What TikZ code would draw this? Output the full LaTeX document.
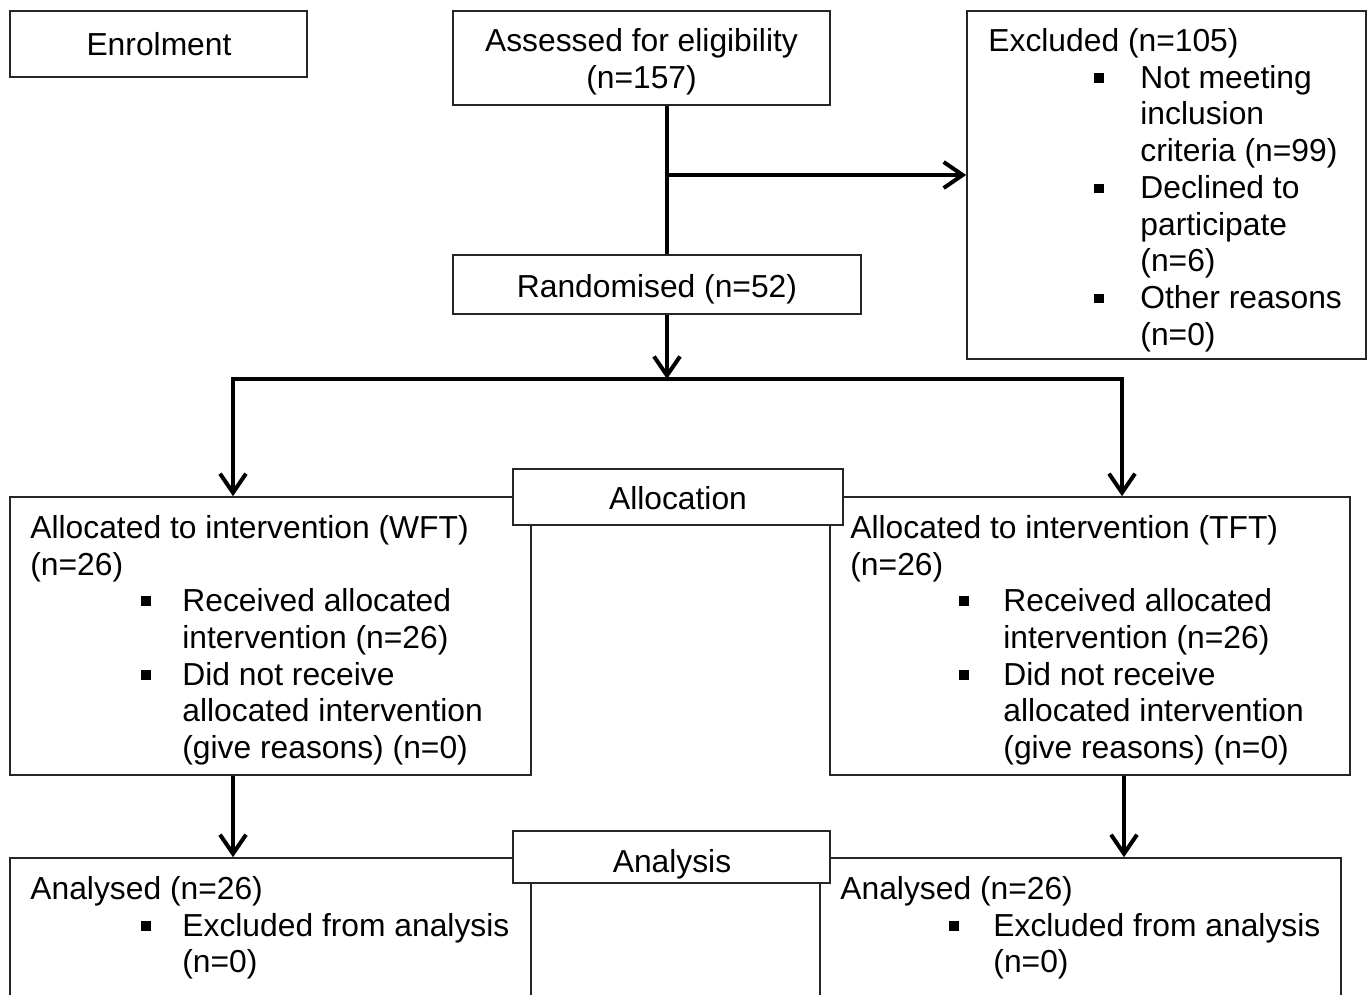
\documentclass[tikz,border=0pt]{standalone}
\usepackage{fontspec}
\setmainfont{Liberation Sans}
\usetikzlibrary{arrows.meta,fit}
% small square list bullet
\newcommand{\sqbullet}{\rule[2.6pt]{4.8pt}{4.8pt}}
\begin{document}
\begin{tikzpicture}[x=0.5pt,y=-0.5pt,
  box/.style={draw=black!85, line width=0.8pt, fill=white, inner sep=0pt},
  txt/.style={inner sep=0pt, anchor=base west, font=\fontsize{15.9}{18.35}\selectfont},
  ctxt/.style={txt, anchor=base},
  flow/.style={line width=2pt, line join=miter},
  arr/.style={flow, -{Straight Barb[length=9.5pt,width=13pt,line width=2pt]}}]
\useasboundingbox (0,0) rectangle (1371,995);

% ---------- boxes ----------
\node[box, fit={(10,11) (307,77)}] (enrol) {};
\node[box, fit={(453,11) (830,105)}] (assess) {};
\node[box, fit={(967,11) (1366,359)}] (excl) {};
\node[box, fit={(453,255) (861,314)}] (rand) {};
\node[box, fit={(10,497) (531,775)}] (wft) {};
\node[box, fit={(830,497) (1350,775)}] (tft) {};
\node[box, fit={(513,469) (843,525)}] (alloc) {};
\node[box, fit={(10,858) (531,1010)}] (wfta) {};
\node[box, fit={(820,858) (1341,1010)}] (tfta) {};
\node[box, fit={(513,831) (830,883)}] (anal) {};

% ---------- connectors ----------
\coordinate (trunk) at (667,175);
\coordinate (split) at (667,379);
\coordinate (wl) at (233,379);
\coordinate (wr) at (1122,379);
\coordinate (bl) at (233,800);
\coordinate (br) at (1124,800);
\draw[flow] (assess.south -| trunk) -- (rand.north -| trunk);
\draw[arr] (trunk) -- (excl.west |- trunk);
\draw[arr] (rand.south -| split) -- (split);
\draw[arr] (split) -- (wl) -- (wft.north -| wl);
\draw[arr] (split) -- (wr) -- (tft.north -| wr);
\draw[arr] (wft.south -| bl) -- (wfta.north -| bl);
\draw[arr] (tft.south -| br) -- (tfta.north -| br);

% ---------- texts ----------
\node[ctxt] (tEnrol) at (159,56) {Enrolment};
\node[ctxt] (tAss1) at (641.5,52) {Assessed for eligibility};
\node[ctxt] (tAss2) at (641.5,89) {(n=157)};
\node[ctxt] (tRand) at (657,297) {Randomised (n=52)};
\node[ctxt] (tAlloc) at (678,509) {Allocation};
\node[ctxt] (tAnal) at (672,872) {Analysis};

% excluded list
\node[txt] (ex0) at (988,51.5) {Excluded (n=105)};
\node[txt] (exb1) at (1094,88.2) {\sqbullet};
\node[txt] (ex1) at (1140,88.2) {Not meeting};
\node[txt] (ex2) at (1140,124.9) {inclusion};
\node[txt] (ex3) at (1140,161.6) {criteria (n=99)};
\node[txt] (exb2) at (1094,198.3) {\sqbullet};
\node[txt] (ex4) at (1140,198.3) {Declined to};
\node[txt] (ex5) at (1140,235) {participate};
\node[txt] (ex6) at (1140,271.7) {(n=6)};
\node[txt] (exb3) at (1094,308.4) {\sqbullet};
\node[txt] (ex7) at (1140,308.4) {Other reasons};
\node[txt] (ex8) at (1140,345.1) {(n=0)};

% allocation, left arm
\node[txt] (wa0) at (30,538) {Allocated to intervention (WFT)};
\node[txt] (wa1) at (30,575) {(n=26)};
\node[txt] (wab1) at (141,611) {\sqbullet};
\node[txt] (wa2) at (182,611) {Received allocated};
\node[txt] (wa3) at (182,648) {intervention (n=26)};
\node[txt] (wab2) at (141,685) {\sqbullet};
\node[txt] (wa4) at (182,685) {Did not receive};
\node[txt] (wa5) at (182,721) {allocated intervention};
\node[txt] (wa6) at (182,758) {(give reasons) (n=0)};

% allocation, right arm
\node[txt] (ta0) at (850,538) {Allocated to intervention (TFT)};
\node[txt] (ta1) at (850,575) {(n=26)};
\node[txt] (tab1) at (959,611) {\sqbullet};
\node[txt] (ta2) at (1003,611) {Received allocated};
\node[txt] (ta3) at (1003,648) {intervention (n=26)};
\node[txt] (tab2) at (959,685) {\sqbullet};
\node[txt] (ta4) at (1003,685) {Did not receive};
\node[txt] (ta5) at (1003,721) {allocated intervention};
\node[txt] (ta6) at (1003,758) {(give reasons) (n=0)};

% analysis, left arm
\node[txt] (wn0) at (30,899) {Analysed (n=26)};
\node[txt] (wnb1) at (141,936) {\sqbullet};
\node[txt] (wn1) at (182,936) {Excluded from analysis};
\node[txt] (wn2) at (182,972) {(n=0)};

% analysis, right arm
\node[txt] (tn0) at (840,899) {Analysed (n=26)};
\node[txt] (tnb1) at (949,936) {\sqbullet};
\node[txt] (tn1) at (993,936) {Excluded from analysis};
\node[txt] (tn2) at (993,972) {(n=0)};
\end{tikzpicture}
\end{document}
